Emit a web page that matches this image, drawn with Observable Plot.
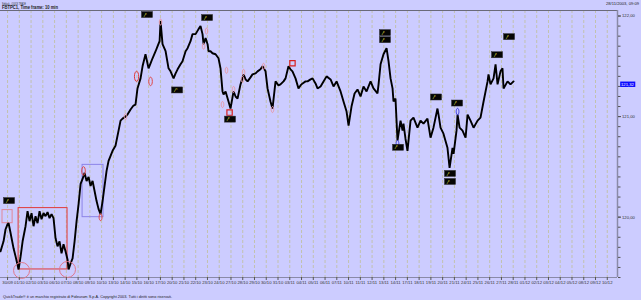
<!DOCTYPE html>
<html><head><meta charset="utf-8">
<script src="https://cdn.jsdelivr.net/npm/d3@7"></script>
<script src="https://cdn.jsdelivr.net/npm/@observablehq/plot@0.6"></script>
<style>
html,body{margin:0;padding:0;background:#ccccff;width:641px;height:300px;overflow:hidden;}
#wrap{position:relative;width:641px;height:300px;}
#wrap svg{position:absolute;left:0;top:0;}
</style></head><body><div id="wrap"></div>
<script>
// x-axis trading days (index 0 = 30/09)
const dateLabels = ["30/09","01/10","02/10","03/10","06/10","07/10","08/10","09/10","10/10","13/10","14/10","15/10","16/10","17/10","20/10","21/10","22/10","23/10","24/10","27/10","28/10","29/10","30/10","31/10","03/11","04/11","05/11","06/11","07/11","10/11","11/11","12/11","13/11","14/11","17/11","18/11","19/11","20/11","21/11","24/11","25/11","26/11","27/11","28/11","01/12","02/12","03/12","04/12","05/12","08/12","09/12","10/12"];

// price series: time in trading days, FBTPC1 price
const days = [
-0.60,-0.34,-0.17,0.00,0.09,0.26,0.51,0.68,0.94,1.11,
1.28,1.53,1.70,1.87,2.04,2.21,2.38,2.55,2.72,2.89,
3.06,3.23,3.40,3.57,3.74,3.91,4.08,4.25,4.42,4.59,
4.76,4.93,5.10,5.19,5.36,5.53,5.70,5.87,6.04,6.21,
6.38,6.55,6.72,6.89,7.06,7.23,7.40,7.57,7.74,7.91,
8.08,8.25,8.42,8.59,8.76,8.93,9.18,9.44,9.61,9.78,
10.03,10.20,10.46,10.71,10.88,11.05,11.31,11.48,11.73,11.99,
12.16,12.33,12.59,12.76,12.93,13.01,13.18,13.44,13.69,13.86,
14.12,14.29,14.46,14.71,14.88,15.14,15.31,15.56,15.73,15.99,
16.24,16.41,16.58,16.67,16.84,17.01,17.09,17.26,17.43,17.69,
17.94,18.11,18.28,18.37,18.54,18.79,18.96,19.22,19.39,19.56,
19.81,20.07,20.24,20.41,20.66,20.83,21.09,21.26,21.51,21.68,
21.94,22.11,22.36,22.53,22.79,23.04,23.21,23.47,23.64,23.89,
24.06,24.23,24.49,24.74,24.91,25.09,25.34,25.51,25.77,25.94,
26.19,26.36,26.62,26.87,27.13,27.47,27.72,27.98,28.32,28.57,
28.83,29.00,29.25,29.51,29.76,30.02,30.27,30.53,30.87,31.12,
31.46,31.55,31.72,31.97,32.23,32.40,32.57,32.74,32.82,32.99,
33.08,33.16,33.42,33.59,33.67,33.84,34.01,34.27,34.52,34.86,
35.12,35.37,35.71,35.97,36.22,36.56,36.65,36.82,37.07,37.41,
37.59,37.84,37.93,38.18,38.27,38.44,38.69,38.95,39.12,39.37,
39.63,39.97,40.22,40.48,40.82,40.90,41.07,41.33,41.50,41.67,
41.92,42.09,42.18,42.52,42.77,43.03];
const prices = [
119.66,119.76,119.88,119.93,119.94,119.84,119.69,119.61,119.48,119.61,
119.76,119.91,120.06,119.96,120.04,119.91,120.01,119.94,120.06,119.98,
120.04,120.01,120.05,119.99,120.03,119.99,119.79,119.71,119.76,119.64,
119.73,119.66,119.58,119.48,119.54,119.59,119.76,119.96,120.13,120.33,
120.38,120.44,120.36,120.40,120.31,120.36,120.26,120.16,120.08,120.03,
120.16,120.31,120.46,120.56,120.61,120.66,120.71,120.86,120.96,120.98,
121.00,121.02,121.07,121.11,121.12,121.28,121.38,121.50,121.62,121.48,
121.53,121.58,121.65,121.70,121.75,121.95,121.72,121.65,121.48,121.45,
121.38,121.43,121.47,121.52,121.55,121.65,121.68,121.75,121.82,121.82,
121.87,121.90,121.82,121.72,121.78,121.72,121.65,121.65,121.63,121.62,
121.58,121.48,121.25,121.22,121.25,121.15,121.08,121.25,121.20,121.18,
121.32,121.42,121.37,121.35,121.39,121.42,121.43,121.45,121.47,121.50,
121.45,121.28,121.15,121.08,121.35,121.31,121.32,121.35,121.38,121.50,
121.47,121.45,121.38,121.28,121.31,121.33,121.35,121.35,121.37,121.38,
121.33,121.28,121.30,121.35,121.40,121.37,121.30,121.35,121.25,121.15,
121.05,120.91,121.10,121.23,121.27,121.20,121.30,121.25,121.35,121.28,
121.23,121.32,121.52,121.62,121.68,121.55,121.38,121.28,121.15,121.18,
120.96,120.76,120.96,120.86,120.93,120.78,120.66,120.96,120.99,120.89,
120.96,120.93,120.98,120.79,120.89,121.08,121.02,120.89,120.83,120.69,
120.49,120.69,120.63,120.86,121.02,120.89,120.86,120.79,121.02,120.96,
120.89,120.96,120.99,121.15,121.35,121.42,121.32,121.38,121.52,121.32,
121.45,121.48,121.28,121.35,121.32,121.35];

const yLabelValues = [120, 121, 122];
const lastPrice = 121.32;

// signal boxes (day, price)
const signalDays   = [0.17, 11.90, 17.01, 14.46, 18.96, 32.14, 32.14, 36.48, 38.27, 33.25, 37.67, 37.67, 41.67, 42.69];
const signalPrices = [120.16, 122.01, 121.98, 121.26, 120.97, 121.83, 121.76, 121.19, 121.13, 120.69, 120.43, 120.35, 121.61, 121.79];

// drawn rectangles (day range, price range)
const boxStart = [0.94, -0.43, 6.38];
const boxEnd   = [5.10, 0.43, 8.16];
const boxLow   = [119.48, 119.94, 120.00];
const boxHigh  = [120.09, 120.07, 120.52];
const boxKind  = ["red", "pink", "purple"];

// circles at the double bottom
const circleDays = [1.19, 5.10];
const circlePrices = [119.47, 119.48];

// ellipse markers
const ellDays   = [10.97, 12.16, 6.46, 7.91, 13.01, 16.92, 16.67, 18.62, 18.28, 19.22, 20.07, 19.98, 21.77, 22.53, 10.03, 38.27, 33.16];
const ellPrices = [121.40, 121.35, 120.46, 120.00, 121.94, 121.85, 121.70, 121.46, 121.12, 121.27, 121.44, 121.37, 121.50, 121.07, 121.00, 121.05, 120.73];
const ellKind   = ["big","mid","mid","small","tiny","tiny","tiny","tiny","tiny","tiny","tiny","tiny","tiny","tiny","tiny","blue","blue"];

// small square markers
const sqDays = [24.23, 18.88];
const sqPrices = [121.53, 121.04];

const series = days.map((d, i) => ({day: d, price: prices[i]}));
const dayIdx = dateLabels.map((d, i) => i);
const xMin = -0.6, xMax = 51.87;
const yMin = 119.40, yMax = 122.055;
const fmt = v => v.toFixed(2).replace(".", ",");
const minorTicks = d3.range(1194, 1221).map(v => v / 10);

const boxes = boxStart.map((s, i) => ({x1: s, x2: boxEnd[i], y1: boxLow[i], y2: boxHigh[i], kind: boxKind[i]}));
const signals = signalDays.map((d, i) => ({day: d, price: signalPrices[i]}));
const circles = circleDays.map((d, i) => ({day: d, price: circlePrices[i]}));
const ells = ellDays.map((d, i) => ({day: d, price: ellPrices[i], kind: ellKind[i]}));
const squares = sqDays.map((d, i) => ({day: d, price: sqPrices[i]}));

const ellipse = {draw(ctx, size) {
  const r = Math.sqrt(size / Math.PI), rx = r * 0.42, ry = r, k = 0.5523;
  ctx.moveTo(rx, 0);
  ctx.bezierCurveTo(rx, ry * k, rx * k, ry, 0, ry);
  ctx.bezierCurveTo(-rx * k, ry, -rx, ry * k, -rx, 0);
  ctx.bezierCurveTo(-rx, -ry * k, -rx * k, -ry, 0, -ry);
  ctx.bezierCurveTo(rx * k, -ry, rx, -ry * k, rx, 0);
  ctx.closePath();
}};
const boxColor = {red: "#e03838", pink: "#e08898", purple: "#8c84e8"};
const ellR = {big: 8.5, mid: 6, small: 4, tiny: 3, blue: 3.5};
const ellColor = {big: "#e03838", mid: "#e04848", small: "#e04848", tiny: "#e89aa8", blue: "#4040e0"};

const chart = Plot.plot({
  width: 641, height: 300,
  marginLeft: 0, marginRight: 24, marginTop: 10, marginBottom: 23,
  style: {background: "transparent", fontFamily: "'Liberation Sans', Arial, sans-serif", color: "#333", overflow: "visible"},
  x: {type: "linear", domain: [xMin, xMax]},
  y: {type: "linear", domain: [yMin, yMax]},
  marks: [
    Plot.ruleX(dayIdx, {stroke: "#c2c2ae", strokeWidth: 1, strokeDasharray: "3,2"}),
    Plot.ruleY([yMax], {stroke: "#6a6a7a", strokeWidth: 1}),
    Plot.ruleY([yMin], {stroke: "#8a8aa8", strokeWidth: 1}),
    Plot.ruleX([xMax], {stroke: "#8a8aa8", strokeWidth: 1.5}),
    Plot.rect(boxes, {x1: "x1", x2: "x2", y1: "y1", y2: "y2", fill: "none", stroke: d => boxColor[d.kind], strokeWidth: 1}),
    Plot.line(series, {x: "day", y: "price", stroke: "#000", strokeWidth: 1.9, strokeLinejoin: "miter"}),
    Plot.dot(circles, {x: "day", y: "price", r: 8, stroke: "#e0788c", strokeWidth: 1, fill: "none"}),
    Plot.dot(ells, {x: "day", y: "price", r: d => ellR[d.kind], symbol: ellipse, stroke: d => ellColor[d.kind], strokeWidth: 1, fill: "none"}),
    Plot.dot(squares, {x: "day", y: "price", r: 3, symbol: "square", stroke: "#d82020", strokeWidth: 1.2, fill: "none"}),
    Plot.rect(signals, {x1: d => d.day - 0.47, x2: d => d.day + 0.47, y1: d => d.price - 0.03, y2: d => d.price + 0.03, fill: "#050505", stroke: "#333", strokeWidth: 0.5}),
    Plot.text(signals, {x: "day", y: "price", text: () => "⁄⁻", dx: -1.5, fill: "#d8d840", fontSize: 5, fontWeight: "bold"}),
    Plot.axisX(dayIdx, {anchor: "bottom", tickSize: 3, tickPadding: 1, tickFormat: i => dateLabels[i], fontSize: 4.2, label: null, stroke: "#555", fill: "#333"}),
    Plot.axisY(minorTicks, {anchor: "right", tickSize: 2.5, tickFormat: () => "", label: null, stroke: "#555"}),
    Plot.axisY(yLabelValues, {anchor: "right", tickSize: 3, tickPadding: 1.5, tickFormat: fmt, fontSize: 4.2, label: null, stroke: "#555", fill: "#333"}),
    Plot.text([lastPrice], {x: xMax, y: d => d, dx: 3.5, text: d => fmt(d), textAnchor: "start", fill: "#ffffff", fontSize: 4.2})
  ]
});
const wrap = document.getElementById("wrap");
wrap.append(chart);

// blue highlight box behind last-price label
d3.select(chart).selectAll("text").each(function() {
  if (this.textContent === fmt(lastPrice)) {
    const b = this.getBBox();
    const ns = "http://www.w3.org/2000/svg";
    const r = document.createElementNS(ns, "rect");
    r.setAttribute("x", b.x - 0.8); r.setAttribute("y", b.y - 0.2);
    r.setAttribute("width", b.width + 1.6); r.setAttribute("height", b.height + 0.4);
    r.setAttribute("fill", "#0a0aff");
    const tr = this.getAttribute("transform");
    if (tr) r.setAttribute("transform", tr);
    this.parentNode.insertBefore(r, this);
  }
});

// header / footer texts
const overlay = d3.create("svg").attr("width", 641).attr("height", 300)
  .style("font-family", "'Liberation Sans', Arial, sans-serif").style("pointer-events", "none");
const texts = [
  {t: "Sirblack - QUICK TRADE", x: 2, y: 4.6, s: 3.6, w: "normal", len: 24},
  {t: "FBTPC1, Time frame: 10 min", x: 2, y: 9.2, s: 4.6, w: "bold", len: 56},
  {t: "28/11/2003, 09:09", x: 606, y: 4.6, s: 3.6, w: "normal", len: 33},
  {t: "QuickTrade® è un marchio registrato di Fideuram S.p.A. Copyright 2003. Tutti i diritti sono riservati.", x: 3, y: 297.6, s: 3.6, w: "normal", len: 169}
];
overlay.selectAll("text").data(texts).join("text")
  .attr("x", d => d.x).attr("y", d => d.y).attr("font-size", d => d.s)
  .attr("font-weight", d => d.w).attr("fill", "#222")
  .attr("textLength", d => d.len).attr("lengthAdjust", "spacingAndGlyphs")
  .text(d => d.t);
wrap.append(overlay.node());
</script>
</body></html>
